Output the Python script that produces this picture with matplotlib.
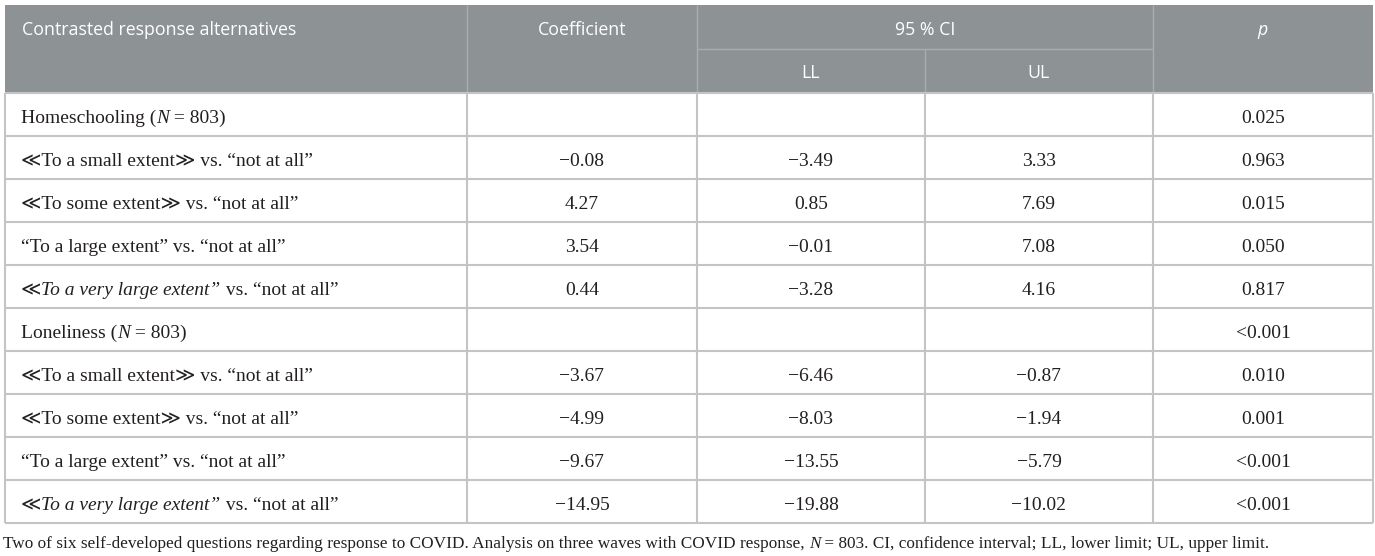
import matplotlib
matplotlib.use("Agg")
import matplotlib.pyplot as plt
from matplotlib.patches import Rectangle

# table content
labels = [
    [("Homeschooling (", False), ("N", True), (" = 803)", False)],
    [("\u226aTo a small extent\u226b vs. \u201cnot at all\u201d", False)],
    [("\u226aTo some extent\u226b vs. \u201cnot at all\u201d", False)],
    [("\u201cTo a large extent\u201d vs. \u201cnot at all\u201d", False)],
    [("\u226a", False), ("To a very large extent\u201d", True), (" vs. \u201cnot at all\u201d", False)],
    [("Loneliness (", False), ("N", True), (" = 803)", False)],
    [("\u226aTo a small extent\u226b vs. \u201cnot at all\u201d", False)],
    [("\u226aTo some extent\u226b vs. \u201cnot at all\u201d", False)],
    [("\u201cTo a large extent\u201d vs. \u201cnot at all\u201d", False)],
    [("\u226a", False), ("To a very large extent\u201d", True), (" vs. \u201cnot at all\u201d", False)],
]
coef = [None, -0.08, 4.27, 3.54, 0.44, None, -3.67, -4.99, -9.67, -14.95]
ll = [None, -3.49, 0.85, -0.01, -3.28, None, -6.46, -8.03, -13.55, -19.88]
ul = [None, 3.33, 7.69, 7.08, 4.16, None, -0.87, -1.94, -5.79, -10.02]
pvals = ["0.025", "0.963", "0.015", "0.050", "0.817",
         "<0.001", "0.010", "0.001", "<0.001", "<0.001"]
footer = [("Two of six self-developed questions regarding response to COVID. "
           "Analysis on three waves with COVID response, ", False), ("N", True),
          (" = 803. CI, confidence interval; LL, lower limit; UL, upper limit.", False)]

# layout (pixels)
W, H = 1375, 556
col_edges = [5, 467, 697, 925, 1153, 1373]
head_top, head_mid, head_bot = 5, 49, 93
row_h = 43
header_bg = "#8d9295"
grid_c = "#c4c4c4"
text_c = "#231f20"
serif = ["Liberation Serif", "DejaVu Serif", "DejaVu Sans"]
sans = ["Open Sans", "DejaVu Sans"]
body_fs = 14
foot_fs = 12.4
head_fs = 12.8

fig = plt.figure(figsize=(W / 100, H / 100), dpi=100)
ax = fig.add_axes([0, 0, 1, 1])
ax.set_xlim(0, W)
ax.set_ylim(H, 0)
ax.axis("off")
renderer = fig.canvas.get_renderer()


def run_width(s, italic, fs):
    kw = dict(fontsize=fs, family=serif, style="italic" if italic else "normal")
    t1 = ax.text(0, 0, "x" + s + "x", **kw)
    t2 = ax.text(0, 0, "xx", **kw)
    w = t1.get_window_extent(renderer).width - t2.get_window_extent(renderer).width
    t1.remove()
    t2.remove()
    return w


def draw_runs(x, y, runs, fs=body_fs):
    for s, italic in runs:
        ax.text(x, y, s, fontsize=fs, family=serif, color=text_c,
                style="italic" if italic else "normal", ha="left", va="center")
        x += run_width(s, italic, fs)


def fmt(v):
    return "" if v is None else f"{v:.2f}".replace("-", "\u2212")


# header
ax.add_patch(Rectangle((col_edges[0], head_top), col_edges[-1] - col_edges[0],
                       head_bot - head_top, color=header_bg, lw=0))
hl = "#a9adb0"
for x in [col_edges[1], col_edges[2], col_edges[4]]:
    ax.vlines(x, head_top, head_bot, color=hl, lw=1)
ax.vlines(col_edges[3], head_mid, head_bot, color=hl, lw=1)
ax.hlines(head_mid, col_edges[2], col_edges[4], color=hl, lw=1)

hy = (head_top + head_mid) / 2 + 3
ax.text(22, hy, "Contrasted response alternatives", color="white", fontsize=head_fs,
        family=sans, ha="left", va="center")
ax.text((col_edges[1] + col_edges[2]) / 2, hy, "Coefficient", color="white",
        fontsize=head_fs, family=sans, ha="center", va="center")
ax.text((col_edges[2] + col_edges[4]) / 2, hy, "95 % CI", color="white",
        fontsize=head_fs, family=sans, ha="center", va="center")
sy = (head_mid + head_bot) / 2 + 2
ax.text((col_edges[2] + col_edges[3]) / 2, sy, "LL", color="white",
        fontsize=head_fs, family=sans, ha="center", va="center")
ax.text((col_edges[3] + col_edges[4]) / 2, sy, "UL", color="white",
        fontsize=head_fs, family=sans, ha="center", va="center")
ax.text((col_edges[4] + col_edges[5]) / 2, hy, "p", color="white",
        fontsize=head_fs, family=sans, style="italic", ha="center", va="center")

# body
n = len(labels)
table_bot = head_bot + n * row_h
for i in range(n + 1):
    ax.hlines(head_bot + i * row_h, col_edges[0], col_edges[-1], color=grid_c, lw=1.5)
for x in col_edges:
    ax.vlines(x, head_bot, table_bot, color=grid_c, lw=1.5)

centers = [(col_edges[k] + col_edges[k + 1]) / 2 for k in range(len(col_edges) - 1)]
for i in range(n):
    y = head_bot + (i + 0.5) * row_h + 4
    draw_runs(21, y, labels[i])
    for k, val in enumerate([fmt(coef[i]), fmt(ll[i]), fmt(ul[i]), pvals[i]]):
        ax.text(centers[k + 1], y, val, fontsize=body_fs, family=serif,
                color=text_c, ha="center", va="center")

draw_runs(3, table_bot + 21, footer, fs=foot_fs)

fig.savefig("out.png", dpi=100)
